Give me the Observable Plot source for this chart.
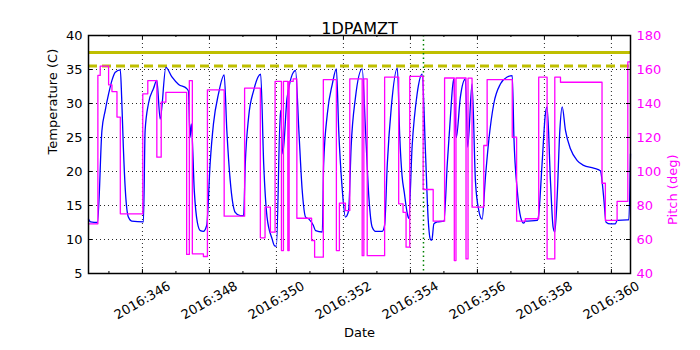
<!DOCTYPE html>
<html><head><meta charset="utf-8">
<script src="https://cdn.jsdelivr.net/npm/d3@7"></script>
<script src="https://cdn.jsdelivr.net/npm/@observablehq/plot@0.6"></script>
<style>body{margin:0;background:#fff}</style>
</head><body><div id="chart"></div>
<script>
// Temperature (1DPAMZT, deg C) vs day of year 2016
const tempDay = [344.39,344.45,344.66,344.79,344.89,344.99,345.09,345.19,345.34,345.38,345.43,345.49,345.58,345.68,346.03,346.08,346.18,346.33,346.43,346.53,346.70,346.88,347.08,347.32,347.375,347.42,347.46,347.55,347.64,347.73,347.82,347.92,348.02,348.12,348.27,348.44,348.52,348.62,348.77,348.92,349.02,349.07,349.17,349.32,349.53,349.62,349.72,349.87,349.94,350.00,350.12,350.19,350.32,350.57,350.67,350.77,350.87,350.97,351.10,351.17,351.37,351.41,351.52,351.67,351.79,351.86,351.96,352.06,352.13,352.16,352.23,352.36,352.56,352.66,352.76,352.86,352.96,353.16,353.23,353.31,353.43,353.61,353.68,353.75,353.82,353.90,353.95,354.05,354.20,354.35,354.45,354.53,354.60,354.64,354.70,354.80,355.00,355.10,355.20,355.29,355.37,355.49,355.64,355.71,355.84,355.94,356.04,356.14,356.24,356.34,356.49,356.69,356.89,357.04,357.09,357.19,357.29,357.38,357.43,357.78,357.82,357.93,358.03,358.08,358.18,358.26,358.31,358.38,358.46,358.53,358.63,358.78,358.98,359.17,359.47,359.67,359.77,359.84,359.97,360.12,360.17,360.47,360.52,360.57];
const tempVal = [13.0,12.6,12.5,26,29,31.4,33.4,34.6,34.95,30.9,23.6,17.2,13.3,12.7,12.6,26,30,32.2,33.4,27.7,35.3,33.9,32.8,32.2,31.8,25,27,17,12.5,11.3,11.2,12.1,21.1,27,31.4,34.2,26,18.7,14,13.5,13.5,21.1,28,31.9,34.3,21.1,13.3,10.1,9.1,9.0,29,22.6,30.9,34.85,26,17.2,13.3,13,12.1,11.3,11.1,21.1,28.5,32.9,35.1,26,17.7,13.3,13.8,14.5,23.6,30.9,35.1,26,16.2,11.8,11.2,11.2,12.1,21.1,29.5,35.2,25.3,19.4,16.8,14.0,13.1,23.6,31.4,34.3,22.8,13,10.0,9.9,12.3,12.6,12.7,21.1,28.5,33.6,25,30.9,33.6,23.6,32.9,18.7,14.3,13,19.2,24.6,30,32.9,33.9,34.1,25,17.2,13.3,12.4,12.7,12.8,13.3,21.1,28.5,29.5,18.7,11.8,11.1,16.2,26,29.5,26,23.3,21.6,20.9,20.5,20.1,16.2,12.55,12.3,12.3,12.8,12.9,12.9,22.6];

// Pitch (deg) vs day of year 2016 (values held until next change)
const pitchDay = [344.39,344.67,344.74,344.99,345.09,345.24,345.34,346.01,346.16,346.43,346.56,346.70,347.32,347.40,347.49,347.82,347.94,348.44,349.05,349.52,349.66,349.82,349.96,350.15,350.21,350.34,350.38,350.50,350.61,351.05,351.14,351.40,351.79,351.88,352.06,352.19,352.56,352.61,352.71,353.23,353.65,353.78,353.87,353.98,354.38,354.68,355.02,355.31,355.36,355.66,355.72,355.84,356.19,356.29,357.04,357.17,357.43,357.83,358.08,358.31,358.48,359.72,359.82,360.17,360.49,360.57];
const pitchVal = [69.2,156.5,162,151,147,132,75.1,145.7,153.5,108.4,140.8,146.6,51.2,153.5,51.6,50,148,73.7,149,61,79,64.3,153,53.5,153,53.5,153,154.5,72.5,59.4,49.6,154,53.5,81.4,77,154.5,50.5,154.5,50.5,155.5,81,76,55.5,156,89.4,70.8,155,47.6,155,48.6,154.9,79,115.3,154.1,120.2,70.8,72.2,155.5,48.6,155.5,152.5,93.1,71.2,82.4,164.5,164.5];

const xTicks = [346,348,350,352,354,356,358,360];
const xMinor = [345,347,349,351,353,355,357,359];
const yTicks = [5,10,15,20,25,30,35,40];
const pitchTicks = [40,60,80,100,120,140,160,180];
const limitSolid = 37.5;
const limitDashed = 35.5;
const markerDay = 354.39;
const xDomain = [344.39, 360.57];
const yDomain = [5, 40];
const pitchDomain = [40, 180];

// map pitch onto the temperature axis (twin axis)
const toY = p => yDomain[0] + (p - pitchDomain[0]) * (yDomain[1] - yDomain[0]) / (pitchDomain[1] - pitchDomain[0]);
const temp = tempDay.map((d, i) => ({day: d, v: tempVal[i]}));
const pitch = pitchDay.map((d, i) => ({day: d, v: pitchVal[i]}));

const W = 700, H = 350, mL = 88, mR = 70, mT = 35, mB = 77;
const iw = W - mL - mR, ih = H - mT - mB;
const font = "DejaVu Sans";

const chart = Plot.plot({
  width: W, height: H,
  marginLeft: mL, marginRight: mR, marginTop: mT, marginBottom: mB,
  style: {fontFamily: font, fontSize: "13px", background: "white", color: "black", overflow: "visible"},
  x: {domain: xDomain, axis: null},
  y: {domain: yDomain, axis: null},
  marks: [
    Plot.gridX(xTicks, {stroke: "black", strokeOpacity: 0.85, strokeDasharray: "1,3"}),
    Plot.gridY(yTicks.slice(1, -1), {stroke: "black", strokeOpacity: 0.85, strokeDasharray: "1,3"}),
    Plot.ruleY([limitSolid], {stroke: "#bfbf00", strokeWidth: 3}),
    Plot.ruleY([limitDashed], {stroke: "#bfbf00", strokeWidth: 3, strokeDasharray: "9,5"}),
    Plot.ruleX([markerDay], {stroke: "green", strokeWidth: 1.5, strokeDasharray: "1.5,3"}),
    Plot.line(temp, {x: "day", y: "v", stroke: "blue", strokeWidth: 1.3, curve: "monotone-x"}),
    Plot.line(pitch, {x: "day", y: d => toY(d.v), stroke: "magenta", strokeWidth: 1.3, curve: "step-after"}),
    // inward tick marks
    Plot.tickX(xTicks, {x: d => d, insetTop: ih - 4, stroke: "black"}),
    Plot.tickX(xTicks, {x: d => d, insetBottom: ih - 4, stroke: "black"}),
    Plot.tickX(xMinor, {x: d => d, insetTop: ih - 2, stroke: "black"}),
    Plot.tickX(xMinor, {x: d => d, insetBottom: ih - 2, stroke: "black"}),
    Plot.tickY(yTicks, {y: d => d, insetRight: iw - 4, stroke: "black"}),
    Plot.tickY(yTicks, {y: d => d, insetLeft: iw - 4, stroke: "black"}),
    Plot.axisY(yTicks, {anchor: "left", tickSize: 0, tickPadding: 6, label: null, fontSize: 13}),
    Plot.axisY(yTicks, {anchor: "right", tickSize: 0, tickPadding: 6, label: null, fontSize: 13,
      fill: "magenta", tickFormat: v => String(pitchTicks[yTicks.indexOf(v)])}),
    Plot.text(xTicks, {x: d => d, frameAnchor: "bottom", dy: 27, rotate: -30, text: d => "2016:" + d,
      textAnchor: "middle", lineAnchor: "middle", fontSize: 13}),
    Plot.frame({stroke: "black", strokeWidth: 1.5}),
    Plot.text(["1DPAMZT"], {frameAnchor: "top", dy: -13, fontSize: 16}),
    Plot.text(["Temperature (C)"], {frameAnchor: "left", dx: -36, rotate: -90, fontSize: 13}),
    Plot.text(["Pitch (deg)"], {frameAnchor: "right", dx: 42, rotate: -90, fontSize: 13, fill: "magenta"}),
    Plot.text(["Date"], {frameAnchor: "bottom", dy: 63, fontSize: 13})
  ]
});
document.getElementById("chart").appendChild(chart);
</script>
</body></html>
